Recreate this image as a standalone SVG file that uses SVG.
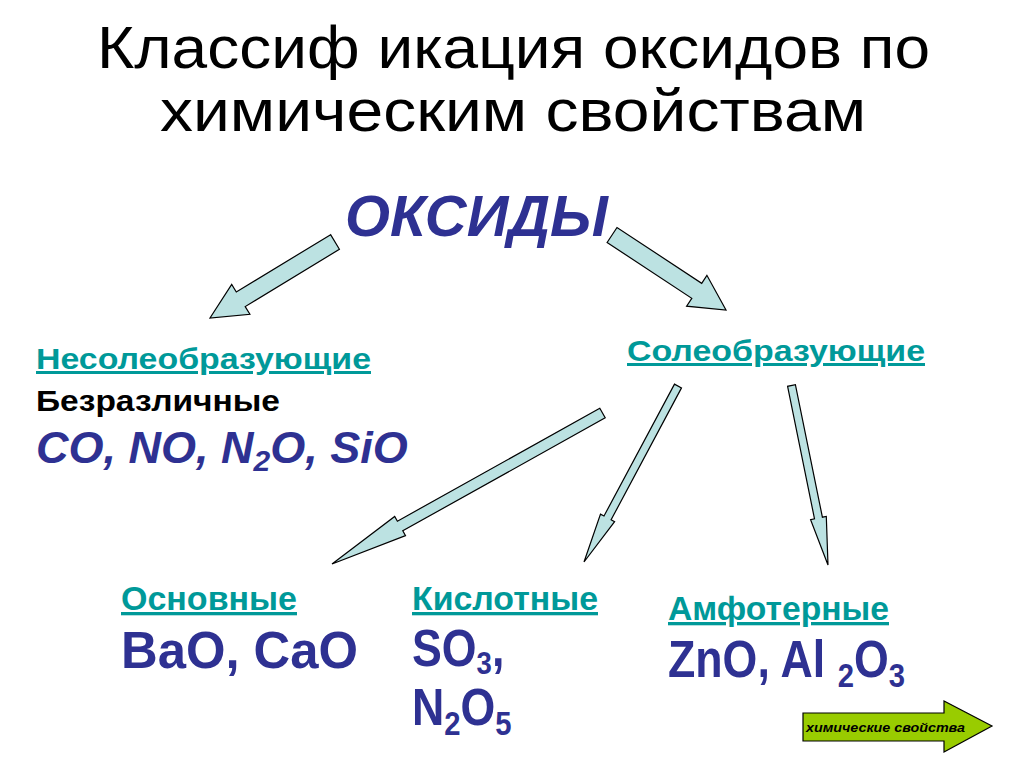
<svg xmlns="http://www.w3.org/2000/svg" width="1024" height="767" viewBox="0 0 1024 767">
<style>
.title{font-family:"Liberation Sans",Arial,sans-serif;font-size:60px;fill:#000}
.navy{font-family:"Liberation Sans",Arial,sans-serif;font-weight:bold;fill:#2E3192}
.teal{font-family:"Liberation Sans",Arial,sans-serif;font-weight:bold;fill:#009999;text-decoration:underline}
.blk{font-family:"Liberation Sans",Arial,sans-serif;font-weight:bold;fill:#000}
.arr{fill:#BCE2E2;stroke:#000;stroke-width:1.2;stroke-linejoin:miter}
</style>
<rect width="1024" height="767" fill="#fff"/>
<g id="title">
<text class="title" x="97" y="68" textLength="833" lengthAdjust="spacingAndGlyphs">Классиф икация оксидов по</text>
<text class="title" x="160" y="131" textLength="706" lengthAdjust="spacingAndGlyphs">химическим свойствам</text>
</g>
<g id="oxides"><text class="navy" x="345" y="236" font-size="58" font-style="italic" textLength="263" lengthAdjust="spacingAndGlyphs">ОКСИДЫ</text></g>
<g id="nonsalt">
<text class="teal" x="36" y="369" font-size="30" textLength="335" lengthAdjust="spacingAndGlyphs">Несолеобразующие</text>
<text class="blk" x="36" y="411" font-size="30" textLength="244" lengthAdjust="spacingAndGlyphs">Безразличные</text>
<text class="navy" x="36" y="463" font-size="45" font-style="italic">CO, NO, N<tspan font-size="30" dy="8">2</tspan><tspan dy="-8">O, SiO</tspan></text>
</g>
<g id="salt"><text class="teal" x="627" y="361" font-size="30" textLength="298" lengthAdjust="spacingAndGlyphs">Солеобразующие</text></g>
<g id="basic">
<text class="teal" x="121" y="610" font-size="33" textLength="176" lengthAdjust="spacingAndGlyphs">Основные</text>
<text class="navy" x="121" y="668" font-size="52" textLength="237" lengthAdjust="spacingAndGlyphs">BaO, CaO</text>
</g>
<g id="acidic">
<text class="teal" x="412" y="610" font-size="33" textLength="186" lengthAdjust="spacingAndGlyphs">Кислотные</text>
<g transform="translate(412,666) scale(0.86,1)"><text class="navy" x="0" y="0" font-size="52">SO<tspan font-size="32" dy="8">3</tspan><tspan dy="-8">,</tspan></text></g>
<g transform="translate(412,725) scale(0.86,1)"><text class="navy" x="0" y="0" font-size="52">N<tspan font-size="34" dy="10">2</tspan><tspan dy="-10">O</tspan><tspan font-size="34" dy="10">5</tspan></text></g>
</g>
<g id="amphoteric">
<text class="teal" x="668" y="620" font-size="33" textLength="221" lengthAdjust="spacingAndGlyphs">Амфотерные</text>
<g transform="translate(668,677) scale(0.86,1)"><text class="navy" x="0" y="0" font-size="52">ZnO, Al <tspan font-size="34" dy="10">2</tspan><tspan dy="-10">O</tspan><tspan font-size="34" dy="10">3</tspan></text></g>
</g>
<g id="connectors">
<polygon class="arr" points="330.6,234.7 236.3,292.0 231.7,284.4 210,318 249.9,314.3 245.2,306.6 339.4,249.3"/>
<polygon class="arr" points="607.1,242.5 691.8,298.3 686.6,306.2 726,310 706.9,275.3 701.7,283.3 617.0,227.5"/>
<polygon class="arr" points="599.8,408.2 397.4,521.2 394.7,516.4 332,564 405.5,535.6 402.8,530.8 605.2,417.8"/>
<polygon class="arr" points="674.5,384.1 604.0,516.0 600.5,514.1 584,562 614.6,521.7 611.1,519.8 681.5,387.9"/>
<polygon class="arr" points="787.6,386.3 814.5,518.8 810.6,519.6 828,565 826.3,516.4 822.4,517.2 795.4,384.7"/>
</g>
<g id="nav-button">
<polygon points="803,713 944,713 944,701 992,726 944,752 944,741 803,741" fill="#99CC00" stroke="#000" stroke-width="1.2"/>
<text x="806" y="732" font-family="'Liberation Sans',Arial,sans-serif" font-size="13" font-weight="bold" font-style="italic" fill="#000" textLength="159" lengthAdjust="spacingAndGlyphs">химические свойства</text>
</g>
</svg>
